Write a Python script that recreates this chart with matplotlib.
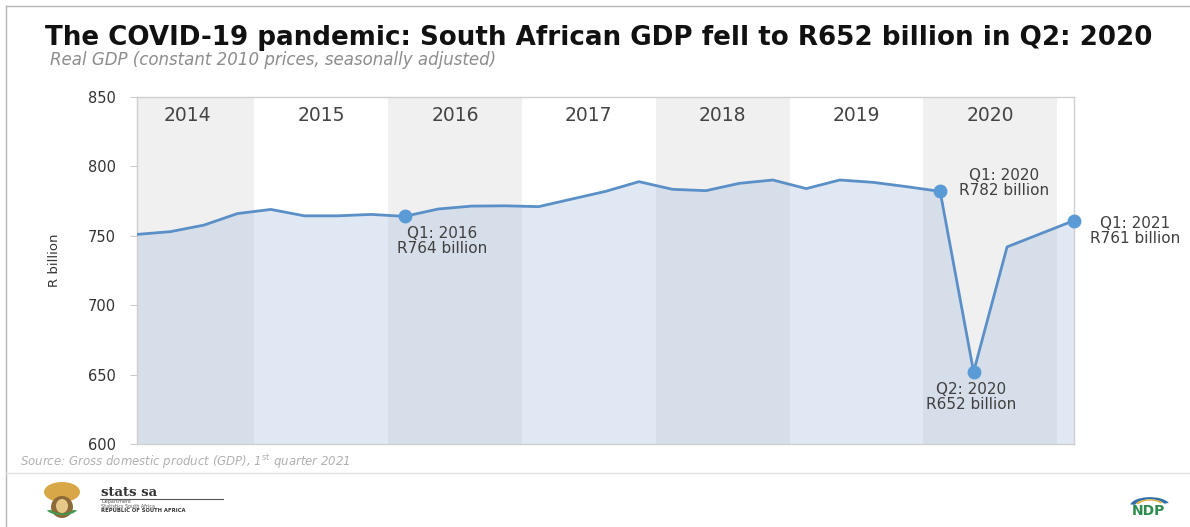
import numpy as np
import matplotlib.pyplot as plt
from matplotlib.lines import Line2D
from matplotlib.patches import Ellipse, Wedge

# Real GDP, constant 2010 prices, seasonally adjusted (R billion), Q1 2014 - Q1 2021
years = [2014, 2015, 2016, 2017, 2018, 2019, 2020]
gdp = [751, 753, 757.7, 766,
       769, 764.4, 764.4, 765.4,
       764, 769.3, 771.4, 771.6,
       771, 776.5, 782, 789,
       783.5, 782.5, 787.8, 790.2,
       784, 790.2, 788.5, 785.4,
       782, 652, 742, 751.5,
       761]
yticks = [600, 650, 700, 750, 800, 850]

# quarters that get a marker and a callout, with label offsets (points)
callouts = {8: (27, -7), 24: (46, 17), 25: (-2, -7), 28: (44, 3)}

title = "The COVID-19 pandemic: South African GDP fell to R652 billion in Q2: 2020"
subtitle = "Real GDP (constant 2010 prices, seasonally adjusted)"
source = r"Source: Gross domestic product (GDP), 1$^{\rm st}$ quarter 2021"

plt.rcParams['font.family'] = ['DejaVu Sans']

W, H = 1190, 527
fig = plt.figure(figsize=(W / 100, H / 100), dpi=100)
fig.patch.set_facecolor('white')

ax = fig.add_axes([137 / W, 1 - 444 / H, (1074 - 137) / W, (444 - 97) / H])
x = np.arange(len(gdp))

# alternating year bands
for i, yr in enumerate(years):
    if i % 2 == 0:
        ax.axvspan(4 * i - 0.5, 4 * i + 3.5, color='#f0f0f0', zorder=0, lw=0)
    ax.text(4 * i + 1.5, 837, str(yr), ha='center', va='center',
            fontsize=13.5, color='#444444', zorder=5)

ax.fill_between(x, 600, gdp, color='#9bb6da', alpha=0.3, lw=0, zorder=1)
ax.plot(x, gdp, color='#5b8fc7', lw=2, zorder=3)

for idx, (dx, dy) in callouts.items():
    ax.plot(x[idx], gdp[idx], 'o', color='#5b9bd5', ms=9, zorder=4, clip_on=False)
    q = idx % 4 + 1
    yr = years[0] + idx // 4
    ax.annotate(f"Q{q}: {yr}\nR{gdp[idx]:.0f} billion", (x[idx], gdp[idx]),
                xytext=(dx, dy), textcoords='offset points', ha='center', va='top',
                fontsize=11, color='#404040', linespacing=1.0, annotation_clip=False)

ax.set_xlim(0, len(gdp) - 1)
ax.set_ylim(600, 850)
ax.set_yticks(yticks)
ax.set_xticks([])
ax.tick_params(axis='y', length=5, color='#cccccc', labelsize=10.5,
               labelcolor='#333333', pad=10)
for sp in ax.spines.values():
    sp.set_color('#cfcfcf')
    sp.set_linewidth(1)

fig.text(55 / W, 1 - 260 / H, "R billion", rotation=90, ha='center', va='center',
         fontsize=9.5, color='#333333')

# headings
fig.text(45 / W, 1 - 45 / H, title, fontsize=18.8, fontweight='bold',
         color='#111111', va='baseline')
fig.text(50 / W, 1 - 65 / H, subtitle, fontsize=12, style='italic',
         color='#8c8c8c', va='baseline')
fig.text(20 / W, 1 - 462 / H, source, fontsize=8.5, style='italic',
         color='#b0b0b0', va='center')

# frame and footer divider
fig.add_artist(Line2D([6 / W, 6 / W], [0, 1 - 6 / H], color='#b5b5b5', lw=1))
fig.add_artist(Line2D([6 / W, 1], [1 - 6 / H, 1 - 6 / H], color='#b5b5b5', lw=1))
fig.add_artist(Line2D([6 / W, 1], [1 - 473 / H, 1 - 473 / H], color='#e2e2e2', lw=1))

# stats sa footer
fig.add_artist(Ellipse((62 / W, 1 - 492 / H), 36 / W, 20 / H, color='#d8a848', lw=0))
fig.add_artist(Ellipse((62 / W, 1 - 507 / H), 22 / W, 22 / H, color='#8c6a3a', lw=0))
fig.add_artist(Ellipse((62 / W, 1 - 506 / H), 12 / W, 14 / H, color='#e6c98a', lw=0))
fig.add_artist(Wedge((62 / W, 1 - 508 / H), 16 / W, 200, 340, width=4 / W,
                     color='#3f9a4f', lw=0, transform=fig.transFigure))
fig.text(101 / W, 1 - 493 / H, "stats sa", fontsize=9.5, family='DejaVu Serif',
         fontweight='bold', color='#333333', va='center')
fig.add_artist(Line2D([100 / W, 223 / W], [1 - 498.5 / H] * 2, color='#555555', lw=0.8))
fig.text(101 / W, 1 - 502 / H, "Department", fontsize=3.5, color='#555555', va='center')
fig.text(101 / W, 1 - 506 / H, "Statistics South Africa", fontsize=3.5,
         color='#555555', va='center')
fig.text(101 / W, 1 - 510.5 / H, "REPUBLIC OF SOUTH AFRICA", fontsize=3.8,
         fontweight='bold', color='#333333', va='center')

# NDP footer mark
fig.add_artist(Wedge((1150 / W, 1 - 506 / H), 20 / W, 20, 170, width=5 / W,
                     color='#2f6ea8', lw=0, transform=fig.transFigure))
fig.add_artist(Wedge((1150 / W, 1 - 506 / H), 15 / W, 30, 160, width=3 / W,
                     color='#e3b23c', lw=0, transform=fig.transFigure))
fig.text(1148 / W, 1 - 511 / H, "NDP", fontsize=10, fontweight='bold',
         color='#2e8b4f', ha='center', va='center')

fig.savefig('out.png', dpi=100)
